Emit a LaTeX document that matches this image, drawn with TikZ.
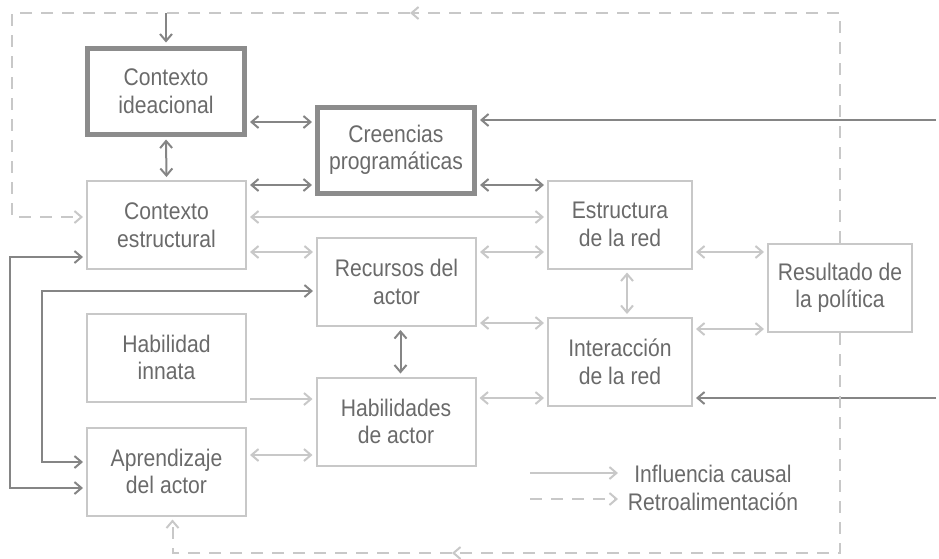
\documentclass[tikz,border=0pt]{standalone}
\usepackage{fontspec}
\setmainfont{Liberation Sans}[FakeStretch=0.88]
\usepackage{tikz}
\usetikzlibrary{arrows.meta}
\definecolor{boxdark}{HTML}{8C8C8C}
\definecolor{linedark}{HTML}{858585}
\definecolor{linelight}{HTML}{C8C8C8}
\definecolor{txtgray}{HTML}{6A6A6A}

\begin{document}
\begin{tikzpicture}[x=1pt, y=-1pt,
  >={Straight Barb[length=7pt, width=12pt]},
  box/.style={draw=linelight, line width=2pt, minimum width=159pt,
    minimum height=88pt, align=center, text=txtgray, inner sep=2pt,
    font=\fontsize{24}{27.5}\selectfont},
  keybox/.style={box, draw=boxdark, line width=5pt,
    minimum width=157pt, minimum height=86pt},
  netbox/.style={box, minimum width=144pt},
  darklink/.style={linedark, line width=2pt, shorten >=3pt, shorten <=3pt},
  lightlink/.style={linelight, line width=2pt, shorten >=3pt, shorten <=3pt},
  fblink/.style={linelight, line width=2pt, dash pattern=on 12pt off 9pt},
  legtext/.style={align=center, text=txtgray, inner sep=0pt,
    font=\fontsize{24}{28}\selectfont}
]
\useasboundingbox (0,0) rectangle (939,558);

% Boxes
\node[keybox] (idea) at (166,91) {Contexto\\ideacional};
\node[keybox] (creen) at (396,150) {Creencias\\programáticas};
\node[box] (estruct) at (166.5,225) {Contexto\\estructural};
\node[box] (recursos) at (396.5,282) {Recursos del\\actor};
\node[box] (innata) at (166.5,357.5) {Habilidad\\innata};
\node[box] (habil) at (396,421.5) {Habilidades\\de actor};
\node[box] (aprend) at (166.5,471.5) {Aprendizaje\\del actor};
\node[netbox] (red) at (620,224.5) {Estructura\\de la red};
\node[netbox] (inter) at (620,362) {Interacción\\de la red};
\node[netbox] (result) at (840,288) {Resultado de\\la política};

% Free ends
\coordinate (inA) at (939,120);
\coordinate (inB) at (939,398);
\coordinate (fbTop) at (166,13);
\coordinate (fbTL) at (12,13);
\coordinate (fbMidT) at (410,13);
\coordinate (fbMidB) at (452,553);

% Dark links
\draw[darklink, <->] ([yshift=-31pt]idea.east) -- ([yshift=-31pt]idea.east -| creen.west);
\draw[darklink, <->] (idea.south) -- (estruct.north);
\draw[darklink, <->] ([yshift=40pt]estruct.east) -- ([yshift=40pt]estruct.east -| creen.west);
\draw[darklink, <->] ([yshift=-35pt]creen.east) -- ([yshift=-35pt]creen.east -| red.west);
\draw[darklink, <->] ([xshift=4pt]recursos.south) -- ([xshift=4pt]recursos.south |- habil.north);
\draw[darklink, ->] (inA) -- (inA -| creen.east);
\draw[darklink, ->] (inB) -- (inB -| inter.east);
\draw[darklink, ->, shorten <=0pt] (fbTop) -- (idea.north);
\draw[darklink, <->] ([yshift=-32pt]estruct.west) -- ++(-76,0) |- ([yshift=-16.5pt]aprend.west);
\draw[darklink, <->] ([yshift=-9pt]recursos.west) -- ++(-274,0) |- ([yshift=9.5pt]aprend.west);

% Light links
\draw[lightlink, <->] ([yshift=8pt]estruct.east) -- ([yshift=8pt]estruct.east -| red.west);
\draw[lightlink, <->] ([yshift=-27pt]estruct.east) -- ([yshift=-27pt]estruct.east -| recursos.west);
\draw[lightlink, <->] ([yshift=30pt]recursos.east) -- ([yshift=30pt]recursos.east -| red.west);
\draw[lightlink, <->] ([yshift=-27.5pt]red.east) -- ([yshift=-27.5pt]red.east -| result.west);
\draw[lightlink, <->] ([xshift=7pt]red.south) -- ([xshift=7pt]red.south |- inter.north);
\draw[lightlink, <->] ([yshift=-41pt]recursos.east) -- ([yshift=-41pt]recursos.east -| inter.west);
\draw[lightlink, <->] ([yshift=33pt]inter.east) -- ([yshift=33pt]inter.east -| result.west);
\draw[lightlink, <->] ([yshift=23.5pt]habil.east) -- ([yshift=23.5pt]habil.east -| inter.west);
\draw[lightlink, ->] ([yshift=-41.5pt]innata.east) -- ([yshift=-41.5pt]innata.east -| habil.west);
\draw[lightlink, <->] ([yshift=16.5pt]aprend.east) -- ([yshift=16.5pt]aprend.east -| habil.west);

% Feedback loops
\draw[fblink, ->] (result.north) |- (fbMidT);
\draw[fblink, ->, shorten >=3pt] (fbMidT) -- (fbTL) |- ([yshift=8pt]estruct.west);
\draw[fblink, ->] (result.south) |- (fbMidB);
\draw[fblink, ->, shorten >=3pt] (fbMidB) -| ([xshift=6pt]aprend.south);

% Legend
\coordinate (lgA) at (530,473);
\coordinate (lgB) at (618,473);
\coordinate (lgC) at (530,499);
\coordinate (lgD) at (618,499);
\draw[lightlink, ->, shorten <=0pt, shorten >=0pt] (lgA) -- (lgB);
\draw[fblink, ->] (lgC) -- (lgD);
\node[legtext] (leg) at (713,488) {Influencia causal\\Retroalimentación};

\end{tikzpicture}
\end{document}
